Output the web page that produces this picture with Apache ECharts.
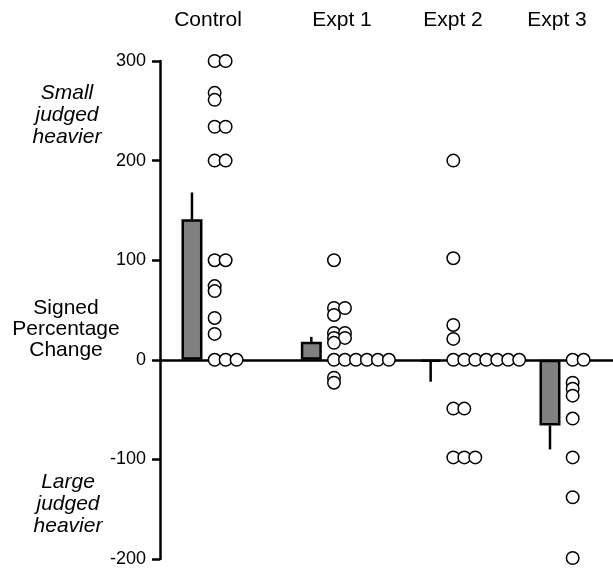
<!DOCTYPE html>
<html>
<head>
<meta charset="utf-8">
<script src="https://cdn.jsdelivr.net/npm/echarts@6/dist/echarts.min.js"></script>
<style>html,body{margin:0;padding:0;background:#fff;}#c{width:613px;height:569px;}</style>
</head>
<body>
<div id="c"></div>
<script>
// ---- data ----
const categories = ['Control', 'Expt 1', 'Expt 2', 'Expt 3'];
const means = [141, 18, -2, -66];
const errorEnds = [168, 23, -22, -90];
const controlDots = [300, 300, 268, 261, 234, 234, 200, 200, 100, 100, 74, 69, 42, 26, 0, 0, 0];
const expt1Dots = [100, 52, 52, 45, 27, 27, 22, 22, 17, 0, 0, 0, 0, 0, 0, -18, -23];
const expt2Dots = [200, 102, 35, 21, 0, 0, 0, 0, 0, 0, 0, -49, -49, -98, -98, -98];
const expt3Dots = [0, 0, -23, -29, -36, -59, -98, -138, -199];
const yTicks = [-200, -100, 0, 100, 200, 300];

const groups = [controlDots, expt1Dots, expt2Dots, expt3Dots];
const FONT = '"Liberation Sans", Arial, Helvetica, sans-serif';

// dots: duplicate values spread into side-by-side columns
const dotData = [];
groups.forEach((vals, gi) => {
  const seen = {};
  vals.forEach(v => {
    const col = seen[v] || 0;
    seen[v] = col + 1;
    dotData.push([gi + 0.19 + col * 0.092, v]);
  });
});

const barData = means.map((m, i) => [i, m]);
const errData = means.map((m, i) => [i, m, errorEnds[i]]);

const labelX = [208, 342, 453, 557];

const chart = echarts.init(document.getElementById('c'), null, {renderer: 'canvas'});
chart.setOption({
  animation: false,
  backgroundColor: '#fff',
  grid: {left: 160, right: 0, top: 61, bottom: 10, containLabel: false},
  xAxis: {
    type: 'value', min: -0.268, max: 3.528,
    axisLine: {show: true, onZero: true, lineStyle: {color: '#000', width: 2.5}},
    axisTick: {show: false}, axisLabel: {show: false}, splitLine: {show: false}
  },
  yAxis: {
    type: 'value', min: yTicks[0], max: yTicks[yTicks.length - 1], interval: 100,
    axisLine: {show: true, onZero: false, lineStyle: {color: '#000', width: 2.5}},
    axisTick: {show: true, inside: false, length: 8, lineStyle: {color: '#000', width: 2.5}},
    axisLabel: {margin: 14, color: '#000', fontSize: 18, fontFamily: FONT},
    splitLine: {show: false}
  },
  series: [
    {
      type: 'bar', data: barData, barWidth: 21, z: 2,
      itemStyle: {color: '#808080', borderColor: '#000', borderWidth: 2.5}
    },
    {
      type: 'custom', data: errData, z: 3,
      renderItem: function (params, api) {
        const p0 = api.coord([api.value(0), api.value(1)]);
        const p1 = api.coord([api.value(0), api.value(2)]);
        return {type: 'line', shape: {x1: p0[0], y1: p0[1], x2: p1[0], y2: p1[1]},
                style: {stroke: '#000', lineWidth: 2.5}};
      }
    },
    {
      type: 'scatter', data: dotData, symbol: 'circle', symbolSize: 12.5, z: 4,
      itemStyle: {color: '#fff', borderColor: '#000', borderWidth: 1.5, opacity: 1}
    }
  ],
  graphic: categories.map((c, i) => ({
    type: 'text', x: labelX[i], y: 20,
    style: {text: c, font: '21px ' + FONT, fill: '#000', align: 'center', verticalAlign: 'middle'}
  })).concat([
    {type: 'text', x: 67, y: 115, style: {text: 'Small\njudged\nheavier', font: 'italic 21px ' + FONT, lineHeight: 22, fill: '#000', align: 'center', verticalAlign: 'middle'}},
    {type: 'text', x: 66, y: 329, style: {text: 'Signed\nPercentage\nChange', font: '21px ' + FONT, lineHeight: 21, fill: '#000', align: 'center', verticalAlign: 'middle'}},
    {type: 'text', x: 68, y: 504, style: {text: 'Large\njudged\nheavier', font: 'italic 21px ' + FONT, lineHeight: 22, fill: '#000', align: 'center', verticalAlign: 'middle'}}
  ])
});
</script>
</body>
</html>
